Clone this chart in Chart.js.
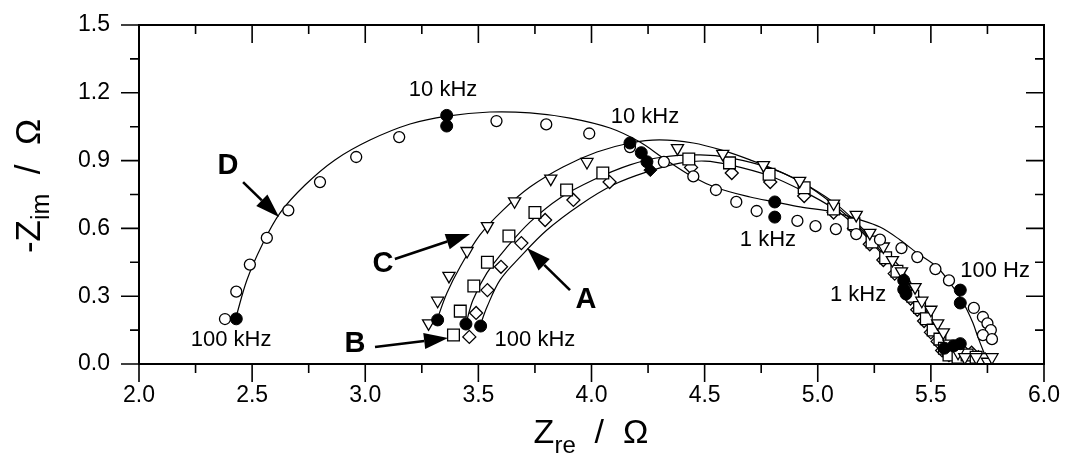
<!DOCTYPE html>
<html><head><meta charset="utf-8">
<script src="https://cdn.jsdelivr.net/npm/chart.js@4/dist/chart.umd.min.js"></script>
<style>html,body{margin:0;padding:0;background:#fff}#wrap{width:1066px;height:470px}</style>
</head><body><div id="wrap"><canvas id="c" width="1066" height="470"></canvas></div>
<script>
// ---- axis ticks ----
const xTickValues = [2.0, 2.5, 3.0, 3.5, 4.0, 4.5, 5.0, 5.5, 6.0];
const yTickValues = [0.0, 0.3, 0.6, 0.9, 1.2, 1.5];
const xMinorValues = [2.25, 2.75, 3.25, 3.75, 4.25, 4.75, 5.25, 5.75];
const yMinorValues = [0.15, 0.45, 0.75, 1.05, 1.35];

// ---- series D (open circles) ----
const dOpen = [[2.38,0.199],[2.43,0.32],[2.49,0.44],[2.565,0.558],[2.66,0.68],[2.80,0.805],[2.96,0.916],[3.15,1.004],
 [3.58,1.075],[3.80,1.06],[3.99,1.02],[4.17,0.96],[4.32,0.894],[4.45,0.83],[4.55,0.77],[4.64,0.717],[4.73,0.677],
 [4.91,0.633],[4.99,0.61],[5.08,0.597],[5.17,0.575],[5.275,0.55],[5.37,0.513],[5.44,0.473],[5.52,0.42],[5.58,0.37],
 [5.69,0.248],[5.73,0.208],[5.75,0.18],[5.765,0.15],[5.73,0.128],[5.77,0.11]];
const dFilled = [[2.43,0.20],[3.36,1.10],[3.36,1.053],[4.81,0.717],[4.81,0.65],[5.63,0.327],[5.63,0.27]];
const dFit = [[2.429,0.208],[2.477,0.372],[2.544,0.527],[2.623,0.668],[2.734,0.792],[2.866,0.903],[3.021,0.991],
 [3.198,1.062],[3.361,1.097],[3.551,1.115],[3.728,1.111],[3.905,1.088],[4.082,1.044],[4.214,0.982],[4.316,0.912],
 [4.449,0.827],[4.555,0.779],[4.701,0.739],[4.811,0.717],[4.922,0.695],[5.067,0.673],[5.173,0.642],[5.275,0.606],
 [5.364,0.549],[5.439,0.491],[5.527,0.429],[5.585,0.358],[5.629,0.296],[5.660,0.239],[5.686,0.181],[5.708,0.119],
 [5.730,0.062],[5.748,0.018]];

// ---- series C (open down-triangles) ----
const cOpen = [[3.28,0.18],[3.32,0.28],[3.37,0.39],[3.45,0.50],[3.54,0.61],[3.66,0.72],[3.82,0.82],[3.98,0.894],
 [4.38,0.955],[4.58,0.93],[4.76,0.88],[4.92,0.81],[5.07,0.71],[5.17,0.66],[5.23,0.58],[5.29,0.52],[5.33,0.46],
 [5.37,0.41],[5.43,0.34],[5.46,0.28],[5.50,0.24],[5.53,0.18],[5.555,0.14],[5.58,0.09],[5.62,0.05],[5.65,0.03],
 [5.70,0.03],[5.75,0.01],[5.77,0.03]];
const cFilled = [[3.32,0.195],[4.17,0.978],[5.38,0.37],[5.60,0.08]];
const cFit = [[3.317,0.195],[3.361,0.314],[3.419,0.429],[3.507,0.571],[3.609,0.681],[3.728,0.783],[3.874,0.872],
 [4.024,0.938],[4.170,0.978],[4.30,0.992],[4.45,0.978],[4.58,0.945],[4.701,0.903],[4.846,0.845],[4.966,0.783],[5.085,0.704],
 [5.173,0.624],[5.275,0.518],[5.364,0.429],[5.439,0.314],[5.496,0.204],[5.554,0.106],[5.593,0.04],[5.63,0.01]];

// ---- series B (open squares) ----
const bOpen = [[3.39,0.128],[3.42,0.234],[3.48,0.345],[3.54,0.45],[3.635,0.566],[3.75,0.67],[3.89,0.77],[4.05,0.845],
 [4.43,0.907],[4.61,0.89],[4.785,0.84],[4.94,0.78],[5.07,0.686],[5.16,0.62],[5.24,0.54],[5.30,0.47],[5.35,0.41],
 [5.42,0.30],[5.45,0.25],[5.48,0.20],[5.51,0.15],[5.54,0.11],[5.56,0.07],[5.58,0.04],[5.62,0.03],[5.66,0.04],
 [5.70,0.03],[5.73,0.02]];
const bFilled = [[3.445,0.177],[4.22,0.935],[5.38,0.33],[5.56,0.07]];
const bFit = [[3.445,0.177],[3.476,0.283],[3.538,0.403],[3.627,0.518],[3.728,0.628],[3.861,0.735],[4.007,0.814],
 [4.170,0.881],[4.316,0.916],[4.48,0.925],[4.612,0.912],[4.789,0.867],[4.935,0.801],[5.067,0.708],[5.173,0.615],
 [5.275,0.504],[5.364,0.407],[5.439,0.292],[5.496,0.195],[5.554,0.102],[5.593,0.035]];

// ---- series A (open diamonds) ----
const aOpen = [[3.46,0.12],[3.49,0.226],[3.54,0.327],[3.60,0.43],[3.69,0.535],[3.795,0.637],[3.92,0.726],[4.08,0.805],
 [4.44,0.87],[4.62,0.845],[4.79,0.805],[4.94,0.743],[5.07,0.67],[5.16,0.60],[5.23,0.53],[5.29,0.46],[5.34,0.40],
 [5.41,0.29],[5.44,0.24],[5.47,0.19],[5.50,0.14],[5.53,0.10],[5.55,0.06],[5.58,0.04],[5.61,0.05],[5.64,0.06],
 [5.68,0.05],[5.71,0.03],[5.74,0.02]];
const aFilled = [[3.51,0.168],[4.245,0.895],[5.39,0.31],[5.63,0.09]];
const aFilledDiamond = [[4.26,0.858]];
const aFit = [[3.507,0.168],[3.538,0.252],[3.596,0.372],[3.684,0.473],[3.803,0.593],[3.949,0.704],[4.095,0.792],
 [4.245,0.850],[4.391,0.889],[4.502,0.898],[4.612,0.881],[4.789,0.832],[4.935,0.765],[5.067,0.690],[5.173,0.606],
 [5.275,0.496],[5.364,0.394],[5.439,0.283],[5.496,0.186],[5.554,0.093],[5.593,0.03]];

// ---- annotations ----
const labelTexts = ['10 kHz','10 kHz','1 kHz','1 kHz','100 Hz','100 kHz','100 kHz','A','B','C','D'];
const labelX = [3.344, 4.236, 4.78, 5.178, 5.784, 2.407, 3.75, 3.976, 2.955, 3.078, 2.393];
const labelY = [1.212, 1.093, 0.549, 0.305, 0.412, 0.106, 0.106, 0.283, 0.088, 0.442, 0.876];
const arrowFrom = [[2.46,0.805],[3.131,0.465],[3.905,0.327],[3.043,0.075]];
const arrowTo = [[2.619,0.650],[3.463,0.575],[3.715,0.513],[3.366,0.115]];

const toPts = arr => arr.map(p => ({x:p[0], y:p[1]}));
const FONT = "'Liberation Sans', Arial, sans-serif";

function fitDs(arr){ return {data:toPts(arr), showLine:true, borderColor:'#000', borderWidth:1.2, pointRadius:0, tension:0.35, fill:false, order:10}; }
function openDs(arr, style, r, rot){ return {data:toPts(arr), showLine:false, pointStyle:style, pointRadius:r, pointRotation:rot||0,
  borderColor:'#000', backgroundColor:'#fff', pointBorderWidth:1.3, order:5}; }
function fillDs(arr, style, r){ return {data:toPts(arr), showLine:false, pointStyle:style, pointRadius:r,
  borderColor:'#000', backgroundColor:'#000', pointBorderWidth:1, order:1}; }

const decor = {
  id:'decor',
  afterDraw(chart){
    const {ctx, chartArea:a, scales} = chart;
    const xs = scales.x, ys = scales.y;
    ctx.save();
    ctx.strokeStyle = '#000';
    ctx.lineWidth = 1.6;
    ctx.beginPath();
    xTickValues.forEach(v => { const p = xs.getPixelForValue(v);
      ctx.moveTo(p, a.bottom); ctx.lineTo(p, a.bottom + 18);
      ctx.moveTo(p, a.top); ctx.lineTo(p, a.top + 18); });
    xMinorValues.forEach(v => { const p = xs.getPixelForValue(v);
      ctx.moveTo(p, a.bottom); ctx.lineTo(p, a.bottom + 9);
      ctx.moveTo(p, a.top); ctx.lineTo(p, a.top + 9); });
    yTickValues.forEach(v => { const p = ys.getPixelForValue(v);
      ctx.moveTo(a.left, p); ctx.lineTo(a.left - 18, p);
      ctx.moveTo(a.right, p); ctx.lineTo(a.right - 18, p); });
    yMinorValues.forEach(v => { const p = ys.getPixelForValue(v);
      ctx.moveTo(a.left, p); ctx.lineTo(a.left - 9, p);
      ctx.moveTo(a.right, p); ctx.lineTo(a.right - 9, p); });
    ctx.stroke();
    ctx.lineWidth = 2;
    ctx.strokeRect(a.left, a.top, a.right - a.left, a.bottom - a.top);

    // labels
    ctx.fillStyle = '#000';
    ctx.textAlign = 'center'; ctx.textBaseline = 'middle';
    labelTexts.forEach((t, i) => {
      const bold = t.length === 1;
      ctx.font = (bold ? 'bold 29px ' : '22px ') + FONT;
      ctx.fillText(t, xs.getPixelForValue(labelX[i]), ys.getPixelForValue(labelY[i]));
    });
    // arrows
    ctx.lineWidth = 2.6;
    arrowFrom.forEach((f, i) => {
      const x0 = xs.getPixelForValue(f[0]), y0 = ys.getPixelForValue(f[1]);
      const x1 = xs.getPixelForValue(arrowTo[i][0]), y1 = ys.getPixelForValue(arrowTo[i][1]);
      const ang = Math.atan2(y1 - y0, x1 - x0), L = 24, W = 8;
      const bx = x1 - L * Math.cos(ang), by = y1 - L * Math.sin(ang);
      ctx.beginPath(); ctx.moveTo(x0, y0); ctx.lineTo(bx, by); ctx.stroke();
      ctx.beginPath(); ctx.moveTo(x1, y1);
      ctx.lineTo(bx + W * Math.sin(ang), by - W * Math.cos(ang));
      ctx.lineTo(bx - W * Math.sin(ang), by + W * Math.cos(ang));
      ctx.closePath(); ctx.fill();
    });

    // axis titles
    ctx.textBaseline = 'alphabetic'; ctx.textAlign = 'left';
    const drawTitle = (parts, cx, cy) => {
      let w = 0;
      parts.forEach(p => { ctx.font = p.size + 'px ' + FONT; w += ctx.measureText(p.t).width; });
      let x = cx - w / 2;
      parts.forEach(p => { ctx.font = p.size + 'px ' + FONT; ctx.fillText(p.t, x, cy + (p.dy || 0)); x += ctx.measureText(p.t).width; });
    };
    drawTitle([{t:'Z', size:34},{t:'re', size:24, dy:10},{t:'  /  \u03A9', size:34}], 591, 443);
    ctx.save();
    ctx.translate(40, 186); ctx.rotate(-Math.PI / 2);
    drawTitle([{t:'-Z', size:35},{t:'im', size:25, dy:9},{t:'  /  \u03A9', size:35}], 0, 0);
    ctx.restore();
    ctx.restore();
  }
};

new Chart(document.getElementById('c'), {
  type:'scatter',
  data:{ datasets:[
    fitDs(dFit), fitDs(cFit), fitDs(bFit), fitDs(aFit),
    openDs(dOpen,'circle',5.5), openDs(cOpen,'triangle',7,180), openDs(bOpen,'rect',8.3), openDs(aOpen,'rectRot',6.5),
    fillDs(dFilled,'circle',6), fillDs(cFilled,'circle',6), fillDs(bFilled,'circle',6), fillDs(aFilled,'circle',6),
    fillDs(aFilledDiamond,'rectRot',6.5)
  ]},
  options:{
    responsive:false, animation:false, devicePixelRatio:1,
    layout:{padding:{left:0, right:22, top:25, bottom:0}},
    plugins:{legend:{display:false}, tooltip:{enabled:false}},
    scales:{
      x:{type:'linear', min:2, max:6,
        afterBuildTicks: s => { s.ticks = xTickValues.map(v => ({value:v})); },
        afterFit: s => { s.height = 106; s.paddingLeft = 0; s.paddingRight = 0; },
        ticks:{callback: v => Number(v).toFixed(1), color:'#000', font:{family:FONT, size:23}, padding:18, maxRotation:0},
        grid:{display:false, drawTicks:false}, border:{display:false}},
      y:{type:'linear', min:0, max:1.5,
        afterBuildTicks: s => { s.ticks = yTickValues.map(v => ({value:v})); },
        afterFit: s => { s.width = 139; s.paddingTop = 0; s.paddingBottom = 0; },
        ticks:{callback: v => Number(v).toFixed(1), color:'#000', font:{family:FONT, size:23}, padding:29},
        grid:{display:false, drawTicks:false}, border:{display:false}}
    }
  },
  plugins:[decor]
});
</script>
</body></html>
